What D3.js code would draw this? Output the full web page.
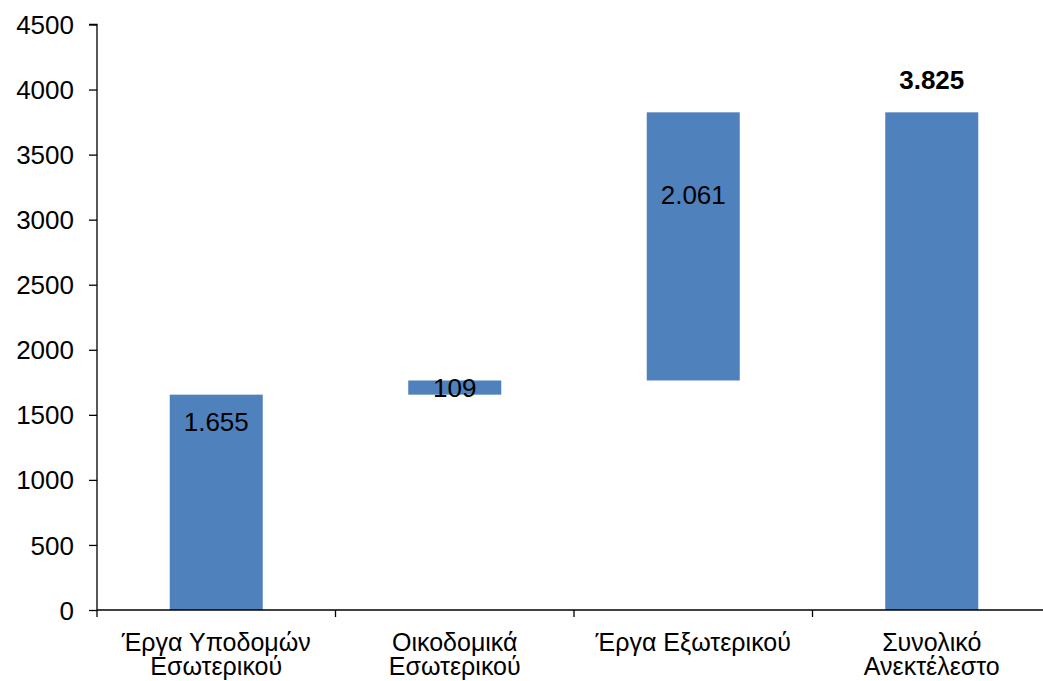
<!DOCTYPE html>
<html>
<head>
<meta charset="utf-8">
<script src="https://cdn.jsdelivr.net/npm/d3@7"></script>
<style>
  html, body { margin: 0; padding: 0; background: #fff; }
  svg { display: block; }
  text { font-family: "Liberation Sans", Arial, sans-serif; fill: #000; }
</style>
</head>
<body>
<svg id="chart" width="1043" height="681"></svg>
<script>
// ---- data ----
const categories = ["Έργα Υποδομών|Εσωτερικού", "Οικοδομικά|Εσωτερικού", "Έργα Εξωτερικού", "Συνολικό|Ανεκτέλεστο"];
const barStart = [0, 1655, 1764, 0];
const barEnd = [1655, 1764, 3825, 3825];
const labels = ["1.655", "109", "2.061", "3.825"];
const labelValue = [1446, 1709, 3192, 4075];
const labelBold = [false, false, false, true];
const yTicks = [0, 500, 1000, 1500, 2000, 2500, 3000, 3500, 4000, 4500];

// ---- layout ----
const svg = d3.select("#chart");
const mLeft = 97, mRight = 1051, mTop = 24.5, mBottom = 610;
const x = d3.scaleBand().domain(categories).range([mLeft, mRight]).padding(0);
const y = d3.scaleLinear().domain([0, 4500]).range([mBottom, mTop]);
const barFrac = 0.39;
const color = "#4f81bd";

// bars
svg.append("g").selectAll("rect").data(categories).join("rect")
  .attr("x", (c) => x(c) + x.bandwidth() * (1 - barFrac) / 2)
  .attr("width", x.bandwidth() * barFrac)
  .attr("y", (c, i) => y(barEnd[i]))
  .attr("height", (c, i) => y(barStart[i]) - y(barEnd[i]))
  .attr("fill", color);

// y axis
const yAxis = d3.axisLeft(y).tickValues(yTicks).tickSize(8).tickPadding(15).tickFormat(d3.format("d"));
const gy = svg.append("g").attr("transform", `translate(${mLeft},0)`).call(yAxis);
gy.select(".domain").attr("stroke", "#000").attr("stroke-width", 1.3).attr("d", `M-8,${mTop}H0V${mBottom}`);
gy.selectAll(".tick line").attr("stroke", "#000").attr("stroke-width", 1.3);
gy.selectAll(".tick text").style("font-size", "26px").style("font-family", "'Liberation Sans', Arial, sans-serif").attr("fill", "#000").attr("dy", "0.35em");

// x axis
const gx = svg.append("g");
gx.append("line").attr("x1", mLeft).attr("x2", mRight).attr("y1", mBottom).attr("y2", mBottom)
  .attr("stroke", "#000").attr("stroke-width", 1.3);
const bounds = categories.map((c) => x(c)).concat([x.range()[1]]);
gx.selectAll("line.tick").data(bounds).join("line").attr("class", "tick")
  .attr("x1", (d) => d).attr("x2", (d) => d).attr("y1", mBottom).attr("y2", mBottom + 7)
  .attr("stroke", "#000").attr("stroke-width", 1.3);
const catText = gx.selectAll("text").data(categories).join("text")
  .attr("text-anchor", "middle")
  .style("font-size", "25px");
catText.each(function (c) {
  const t = d3.select(this);
  c.split("|").forEach((line, k) => {
    t.append("tspan").attr("x", x(c) + x.bandwidth() / 2).attr("y", 651 + k * 24).text(line);
  });
});

// data labels
svg.append("g").selectAll("text").data(categories).join("text")
  .attr("x", (c) => x(c) + x.bandwidth() / 2)
  .attr("y", (c, i) => y(labelValue[i]))
  .attr("dy", "0.35em")
  .attr("text-anchor", "middle")
  .style("font-size", "26px")
  .style("font-weight", (c, i) => labelBold[i] ? "bold" : "normal")
  .text((c, i) => labels[i]);
</script>
</body>
</html>
